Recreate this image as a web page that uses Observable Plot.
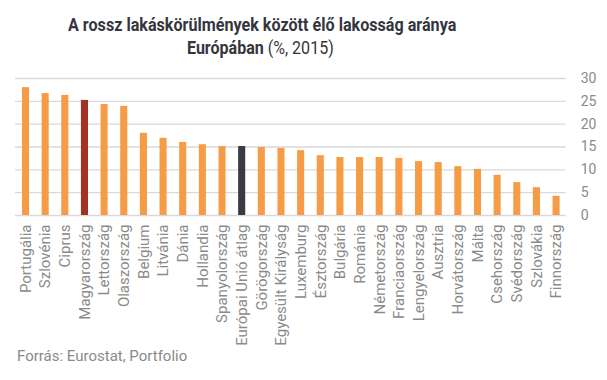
<!DOCTYPE html>
<html>
<head>
<meta charset="utf-8">
<script src="https://cdn.jsdelivr.net/npm/d3@7"></script>
<script src="https://cdn.jsdelivr.net/npm/@observablehq/plot@0.6"></script>
<style>
  body { margin: 0; background: #fff; width: 607px; height: 380px; position: relative; overflow: hidden; font-family: Roboto, sans-serif; }
  .tline { position: absolute; left: 0; white-space: nowrap; color: #34363d; font-size: 18px; line-height: 23px; font-weight: 700; transform-origin: 0 0; }
  .tline .n { font-weight: 400; }
  #chart { position: absolute; left: 0; top: 60px; }
  #caption { position: absolute; left: 17px; top: 347px; font-size: 15px; line-height: 18px; color: #8a8a8a; white-space: nowrap; }
</style>
</head>
<body>
<div class="tline" id="t1">A rossz lakáskörülmények között élő lakosság aránya</div>
<div class="tline" id="t2">Európában <span class="n">(%, 2015)</span></div>
<div id="chart"></div>
<div id="caption">Forrás: Eurostat, Portfolio</div>
<script>
const countries = ["Portugália","Szlovénia","Ciprus","Magyarország","Lettország","Olaszország","Belgium","Litvánia","Dánia","Hollandia","Spanyolország","Európai Unió átlag","Görögország","Egyesült Királyság","Luxemburg","Észtország","Bulgária","Románia","Németország","Franciaország","Lengyelország","Ausztria","Horvátország","Málta","Csehország","Svédország","Szlovákia","Finnország"];
const values = [28.0,26.7,26.3,25.2,24.3,23.9,18.0,16.9,16.0,15.5,15.1,15.1,14.9,14.7,14.2,13.1,12.7,12.7,12.7,12.5,11.8,11.6,10.7,10.1,8.8,7.2,6.1,4.2];
const yTicks = [0,5,10,15,20,25,30];
const highlightCountry = "Magyarország";
const averageLabel = "Európai Unió átlag";

const data = countries.map((c, i) => ({country: c, value: values[i]}));
const colorOf = d => d.country === highlightCountry ? "#a33223" : d.country === averageLabel ? "#393b44" : "#f69c47";

// Title lines: condensed look via horizontal scaling to match widths
function fitLine(id, left, width, top) {
  const el = document.getElementById(id);
  const w = el.offsetWidth;
  const s = width / w;
  el.style.top = top + "px";
  el.style.left = left + "px";
  el.style.transform = `scaleX(${s})`;
}
fitLine("t1", 68, 388, 13);
fitLine("t2", 187, 147, 36);

const W = 607, H = 300;
const plot = Plot.plot({
  width: W,
  height: H,
  marginTop: 18,
  marginBottom: 145,
  marginLeft: 9.4,
  marginRight: 34.8,
  style: {fontFamily: "Roboto, sans-serif", color: "#8a8a8a", background: "transparent"},
  x: {domain: countries, padding: 0.64, round: false, label: null},
  y: {domain: [0, 30], label: null},
  marks: [
    Plot.ruleY(yTicks, {y: d => d, stroke: "#d9d9d9", strokeWidth: 1.3, insetLeft: 5.6, insetRight: 6.5}),
    Plot.barY(data, {x: "country", y: "value", fill: colorOf}),
    Plot.axisX({tickRotate: -90, tickSize: 0, tickPadding: 9, fontSize: 15, label: null}),
    Plot.axisY({anchor: "right", ticks: yTicks, tickSize: 0, tickPadding: 8, fontSize: 14, label: null})
  ]
});
document.getElementById("chart").appendChild(plot);
</script>
</body>
</html>
